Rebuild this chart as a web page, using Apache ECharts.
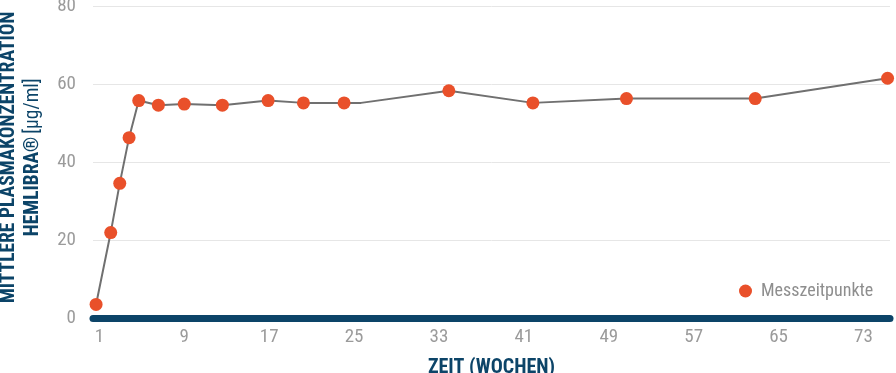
<!DOCTYPE html>
<html>
<head>
<meta charset="utf-8">
<script src="https://cdn.jsdelivr.net/npm/echarts@6/dist/echarts.min.js"></script>
<style>
html,body{margin:0;padding:0;background:#fff;}
#chart{width:896px;height:373px;}
</style>
</head>
<body>
<div id="chart"></div>
<script>
// Measured points (weeks, mean plasma concentration µg/ml)
const pointWeeks  = [0.69, 2.07, 2.92, 3.80, 4.71, 6.56, 9.0, 12.59, 16.9, 20.23, 24.06, 33.93, 41.85, 50.67, 62.8, 75.27];
const pointValues = [3.6, 22.0, 34.6, 46.3, 55.8, 54.6, 54.9, 54.6, 55.8, 55.2, 55.2, 58.3, 55.2, 56.3, 56.3, 61.5];
// Connecting line (includes one unmarked vertex)
const lineWeeks  = [0.69, 2.07, 2.92, 3.80, 4.71, 6.56, 9.0, 12.59, 16.9, 20.23, 24.06, 25.66, 33.93, 41.85, 50.67, 62.8, 75.27];
const lineValues = [3.6, 22.0, 34.6, 46.3, 55.8, 54.6, 54.9, 54.6, 55.8, 55.2, 55.2, 55.2, 58.3, 55.2, 56.3, 56.3, 61.5];
const xTickLabels = [1, 9, 17, 25, 33, 41, 49, 57, 65, 73];
const yTicks = [0, 20, 40, 60, 80];

const FONT = "'Roboto Condensed', 'Open Sans Condensed', sans-serif";
const BLUE = '#0c4468';
const GREY_TXT = '#9b9b9b';
const ORANGE = '#e9502a';

const chart = echarts.init(document.getElementById('chart'), null, {renderer: 'canvas'});
chart.setOption({
  animation: false,
  grid: {left: 93, right: 6, top: 6, bottom: 54.5, containLabel: false, outerBoundsMode: 'none'},
  legend: {
    data: ['Messzeitpunkte'],
    left: 734, top: 277,
    icon: 'circle', itemWidth: 13, itemHeight: 13,
    textStyle: {color: '#8e8e8e', fontFamily: FONT, fontSize: 18, padding: [0, 0, 0, 4]}
  },
  xAxis: {
    type: 'value',
    min: 0.4, max: 75.5,
    name: 'ZEIT (WOCHEN)',
    nameLocation: 'middle',
    nameGap: 39,
    nameTextStyle: {color: BLUE, fontFamily: FONT, fontSize: 20, fontWeight: 'bold'},
    axisLine: {show: true, onZero: false, lineStyle: {color: BLUE, width: 7}},
    axisTick: {show: false},
    splitLine: {show: false},
    axisLabel: {
      customValues: xTickLabels,
      color: GREY_TXT, fontFamily: FONT, fontSize: 19, margin: 9
    }
  },
  yAxis: {
    type: 'value',
    min: 0, max: 80, interval: 20,
    name: '{b|MITTLERE PLASMAKONZENTRATION}\n{b|HEMLIBRA®} {n|[µg/ml]}',
    nameLocation: 'middle',
    nameRotate: 90,
    nameGap: 48,
    nameTextStyle: {
      color: BLUE, fontFamily: FONT, lineHeight: 24,
      padding: [0, 0, 0, 10],
      rich: {
        b: {color: BLUE, fontFamily: FONT, fontSize: 19.5, fontWeight: 'bold', lineHeight: 24},
        n: {color: BLUE, fontFamily: FONT, fontSize: 19.5, fontWeight: 'normal', lineHeight: 24}
      }
    },
    axisLine: {show: false},
    axisTick: {show: false},
    splitLine: {lineStyle: {color: '#e6e6e6', width: 1}},
    axisLabel: {
      customValues: yTicks,
      color: GREY_TXT, fontFamily: FONT, fontSize: 19, margin: 17
    }
  },
  series: [
    {
      name: 'Verlauf',
      type: 'line',
      data: lineWeeks.map((w, i) => [w, lineValues[i]]),
      showSymbol: false,
      symbol: 'none',
      lineStyle: {color: '#707070', width: 2},
      z: 2
    },
    {
      name: 'Messzeitpunkte',
      type: 'scatter',
      data: pointWeeks.map((w, i) => [w, pointValues[i]]),
      symbol: 'circle',
      symbolSize: 13,
      itemStyle: {color: ORANGE, opacity: 1},
      z: 3
    }
  ]
});
</script>
</body>
</html>
